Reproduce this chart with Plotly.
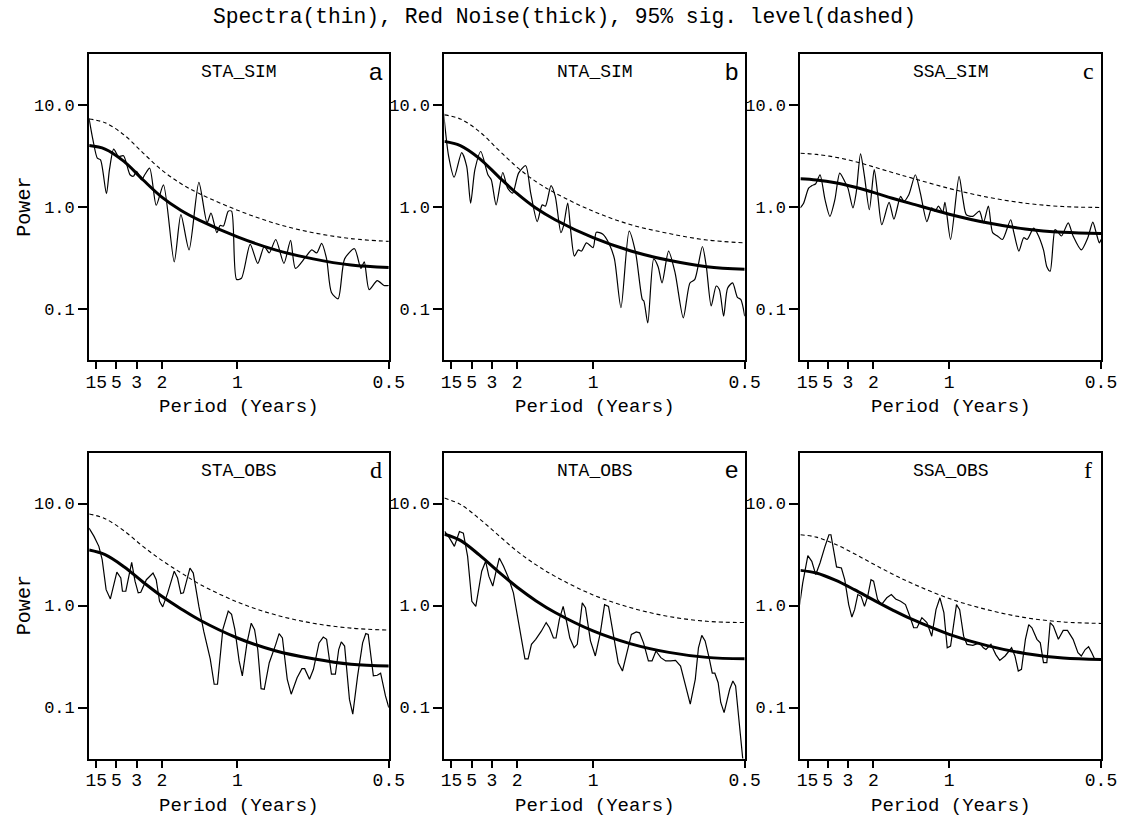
import plotly.graph_objects as go
from plotly.subplots import make_subplots

# ---------------- data (frequency in cycles/year, power) ----------------
panel_names = ["STA_SIM", "NTA_SIM", "SSA_SIM", "STA_OBS", "NTA_OBS", "SSA_OBS"]
panel_letters = ["a", "b", "c", "d", "e", "f"]

tick_periods = [15, 5, 3, 2, 1, 0.5]
tick_period_text = ["15", "5", "3", "2", "1", "0.5"]
power_ticks = [0.1, 1.0, 10.0]
power_tick_text = ["0.1", "1.0", "10.0"]

rn_freq = [0.02, 0.125, 0.25, 0.375, 0.5, 0.625, 0.75, 1.0, 1.25, 1.5, 1.75, 2.0]

red_a = [4.0, 3.7, 2.8, 1.85, 1.25, 0.93, 0.74, 0.51, 0.38, 0.31, 0.27, 0.255]
sig_a = [7.3, 6.7, 5.1, 3.4, 2.3, 1.7, 1.35, 0.93, 0.69, 0.56, 0.49, 0.46]
red_b = [4.4, 4.0, 3.0, 2.0, 1.35, 0.97, 0.75, 0.50, 0.37, 0.30, 0.26, 0.245]
sig_b = [8.0, 7.3, 5.5, 3.65, 2.45, 1.77, 1.37, 0.91, 0.67, 0.55, 0.475, 0.445]
red_c = [1.89, 1.84, 1.73, 1.57, 1.39, 1.22, 1.08, 0.85, 0.70, 0.61, 0.565, 0.55]
sig_c = [3.37, 3.28, 3.08, 2.8, 2.48, 2.18, 1.93, 1.52, 1.25, 1.09, 1.01, 0.99]
red_d = [3.5, 3.15, 2.4, 1.7, 1.23, 0.93, 0.72, 0.48, 0.36, 0.30, 0.265, 0.255]
sig_d = [7.9, 7.1, 5.4, 3.8, 2.77, 2.1, 1.62, 1.08, 0.81, 0.67, 0.60, 0.574]
red_e = [5.0, 4.35, 3.13, 2.15, 1.51, 1.11, 0.854, 0.564, 0.421, 0.347, 0.31, 0.30]
sig_e = [11.3, 9.8, 7.1, 4.9, 3.4, 2.5, 1.93, 1.27, 0.95, 0.78, 0.70, 0.68]
red_f = [2.21, 2.08, 1.77, 1.43, 1.135, 0.907, 0.738, 0.522, 0.404, 0.339, 0.306, 0.296]
sig_f = [4.94, 4.68, 3.98, 3.22, 2.55, 2.04, 1.66, 1.17, 0.91, 0.76, 0.69, 0.667]

freq_a = [0.019, 0.045, 0.074, 0.095, 0.134, 0.154, 0.182, 0.214, 0.247, 0.290, 0.312, 0.333, 0.366,
          0.387, 0.420, 0.463, 0.511, 0.582, 0.626, 0.680, 0.745, 0.799, 0.825, 0.864, 0.885, 0.907,
          0.939, 0.961, 0.994, 1.026, 1.084, 1.134, 1.177, 1.210, 1.253, 1.307, 1.351, 1.383, 1.448,
          1.491, 1.524, 1.556, 1.589, 1.621, 1.665, 1.708, 1.773, 1.816, 1.838, 1.870, 1.924, 1.968, 2.0]
spec_a = [7.41, 4.55, 3.01, 2.90, 1.35, 2.32, 3.69, 3.13, 3.18, 2.07, 2.0, 2.23, 1.85, 2.07, 2.40, 1.04,
          1.65, 0.29, 0.84, 0.38, 1.74, 0.70, 0.87, 0.56, 0.66, 0.65, 0.91, 0.91, 0.195, 0.20, 0.43, 0.28,
          0.41, 0.355, 0.48, 0.28, 0.47, 0.25, 0.32, 0.38, 0.355, 0.44, 0.31, 0.145, 0.126, 0.31, 0.39,
          0.25, 0.29, 0.155, 0.19, 0.17, 0.17]

freq_b = [0.015, 0.048, 0.084, 0.134, 0.167, 0.193, 0.221, 0.260, 0.307, 0.329, 0.361, 0.405, 0.437,
          0.470, 0.509, 0.556, 0.589, 0.632, 0.665, 0.686, 0.723, 0.751, 0.788, 0.805, 0.833, 0.853,
          0.877, 0.903, 0.924, 0.957, 1.000, 1.022, 1.065, 1.108, 1.141, 1.184, 1.238, 1.281, 1.325,
          1.335, 1.361, 1.400, 1.429, 1.455, 1.498, 1.541, 1.595, 1.639, 1.671, 1.721, 1.747, 1.779,
          1.812, 1.833, 1.861, 1.887, 1.920, 1.952, 1.974, 2.0]
spec_b = [8.3, 3.13, 1.96, 3.42, 2.50, 1.09, 2.32, 3.50, 2.07, 1.85, 1.05, 2.18, 1.53, 1.37, 2.15, 2.54,
          1.37, 0.72, 1.05, 1.02, 1.62, 1.27, 0.56, 0.65, 1.09, 0.58, 0.33, 0.38, 0.37, 0.445, 0.40, 0.565,
          0.54, 0.43, 0.31, 0.103, 0.58, 0.355, 0.124, 0.12, 0.073, 0.31, 0.26, 0.18, 0.37, 0.226, 0.082,
          0.18, 0.195, 0.41, 0.26, 0.107, 0.168, 0.155, 0.085, 0.16, 0.18, 0.13, 0.124, 0.085]

freq_c = [0.019, 0.041, 0.074, 0.095, 0.121, 0.149, 0.182, 0.214, 0.247, 0.279, 0.312, 0.333, 0.366,
          0.387, 0.416, 0.442, 0.474, 0.506, 0.528, 0.556, 0.604, 0.636, 0.680, 0.701, 0.734, 0.777,
          0.810, 0.853, 0.885, 0.907, 0.929, 0.957, 0.972, 1.009, 1.065, 1.091, 1.113, 1.156, 1.199,
          1.225, 1.258, 1.286, 1.318, 1.351, 1.405, 1.426, 1.459, 1.491, 1.513, 1.556, 1.578, 1.621,
          1.643, 1.665, 1.697, 1.719, 1.740, 1.784, 1.816, 1.870, 1.913, 1.946, 1.968, 1.989, 2.0]
spec_c = [0.98, 1.09, 1.53, 1.62, 1.69, 2.07, 1.18, 0.81, 1.18, 2.15, 1.78, 1.53, 0.98, 1.37, 3.32, 2.0,
          0.94, 2.32, 1.37, 0.67, 1.11, 0.76, 1.27, 1.14, 1.32, 2.07, 1.37, 0.72, 0.98, 0.91, 1.02, 0.89,
          1.11, 0.48, 2.0, 1.18, 0.84, 0.81, 0.91, 0.70, 1.02, 0.56, 0.52, 0.48, 0.75, 0.56, 0.37, 0.50,
          0.48, 0.62, 0.56, 0.38, 0.26, 0.235, 0.60, 0.56, 0.52, 0.70, 0.52, 0.38, 0.50, 0.71, 0.56,
          0.445, 0.48]

freq_d = [0.019, 0.052, 0.084, 0.106, 0.132, 0.160, 0.203, 0.229, 0.240, 0.262, 0.301, 0.323, 0.344,
          0.361, 0.398, 0.442, 0.463, 0.485, 0.506, 0.539, 0.582, 0.604, 0.626, 0.643, 0.686, 0.708,
          0.745, 0.777, 0.820, 0.846, 0.868, 0.903, 0.939, 0.961, 0.983, 1.011, 1.032, 1.063, 1.091,
          1.113, 1.134, 1.156, 1.177, 1.210, 1.253, 1.275, 1.297, 1.329, 1.355, 1.394, 1.426, 1.444,
          1.476, 1.502, 1.539, 1.567, 1.589, 1.621, 1.647, 1.669, 1.686, 1.708, 1.740, 1.762, 1.794,
          1.827, 1.848, 1.864, 1.898, 1.924, 1.946, 1.978, 2.0]
spec_d = [5.74, 4.76, 3.80, 2.82, 1.43, 1.16, 2.12, 1.86, 1.38, 1.38, 2.65, 1.73, 1.33, 1.35, 1.79, 2.08,
          1.79, 1.10, 0.97, 1.33, 2.17, 1.86, 1.31, 1.33, 2.33, 2.08, 0.98, 0.56, 0.30, 0.169, 0.169,
          0.58, 0.88, 0.82, 0.58, 0.286, 0.204, 0.43, 0.67, 0.58, 0.37, 0.153, 0.151, 0.275, 0.416, 0.53,
          0.48, 0.189, 0.135, 0.196, 0.24, 0.24, 0.189, 0.237, 0.43, 0.49, 0.466, 0.212, 0.212, 0.37,
          0.44, 0.40, 0.12, 0.086, 0.204, 0.43, 0.53, 0.52, 0.204, 0.207, 0.217, 0.13, 0.10]

freq_e = [0.022, 0.054, 0.086, 0.119, 0.145, 0.173, 0.201, 0.227, 0.266, 0.292, 0.313, 0.339, 0.361,
          0.382, 0.410, 0.443, 0.475, 0.508, 0.529, 0.551, 0.572, 0.594, 0.622, 0.659, 0.691, 0.713,
          0.739, 0.756, 0.778, 0.803, 0.827, 0.847, 0.875, 0.896, 0.929, 0.950, 0.983, 1.015, 1.048,
          1.076, 1.102, 1.134, 1.166, 1.194, 1.220, 1.253, 1.285, 1.307, 1.333, 1.365, 1.389, 1.415,
          1.447, 1.479, 1.512, 1.544, 1.577, 1.609, 1.641, 1.674, 1.695, 1.717, 1.739, 1.765, 1.786,
          1.803, 1.825, 1.842, 1.864, 1.901, 1.922, 1.940, 1.955, 1.972, 1.987, 2.0]
spec_e = [5.32, 4.58, 3.80, 5.32, 5.13, 3.03, 1.10, 0.98, 2.17, 2.71, 1.94, 1.55, 2.17, 2.92, 2.42, 1.86,
          1.33, 0.68, 0.43, 0.30, 0.30, 0.416, 0.466, 0.56, 0.68, 0.605, 0.48, 0.48, 0.73, 0.98, 0.68,
          0.48, 0.385, 0.416, 1.06, 0.95, 0.45, 0.32, 0.54, 1.02, 0.98, 0.52, 0.275, 0.228, 0.32, 0.52,
          0.55, 0.54, 0.43, 0.286, 0.286, 0.358, 0.308, 0.286, 0.286, 0.29, 0.255, 0.169, 0.108, 0.189,
          0.385, 0.51, 0.45, 0.308, 0.217, 0.217, 0.175, 0.112, 0.089, 0.151, 0.182, 0.163, 0.096,
          0.049, 0.034, 0.02]

freq_f = [0.015, 0.035, 0.069, 0.095, 0.121, 0.149, 0.182, 0.208, 0.221, 0.258, 0.290, 0.312, 0.338,
          0.359, 0.377, 0.398, 0.420, 0.442, 0.463, 0.485, 0.502, 0.528, 0.554, 0.589, 0.619, 0.647,
          0.680, 0.712, 0.740, 0.766, 0.788, 0.820, 0.853, 0.885, 0.913, 0.939, 0.965, 0.987, 1.009,
          1.048, 1.069, 1.095, 1.117, 1.156, 1.199, 1.225, 1.242, 1.275, 1.307, 1.333, 1.368, 1.411,
          1.433, 1.455, 1.476, 1.502, 1.524, 1.545, 1.578, 1.600, 1.621, 1.643, 1.665, 1.686, 1.719,
          1.751, 1.779, 1.816, 1.848, 1.870, 1.896, 1.918, 1.939, 1.957]
spec_f = [1.02, 1.66, 3.08, 2.71, 2.01, 2.61, 3.80, 4.94, 4.94, 2.39, 2.33, 1.79, 1.02, 0.77, 0.91, 1.28,
          1.23, 0.98, 1.23, 1.79, 1.73, 1.15, 1.02, 1.19, 1.28, 1.16, 1.10, 1.02, 0.79, 0.605, 0.605,
          0.76, 0.68, 0.50, 0.91, 1.19, 0.85, 0.385, 0.40, 1.02, 0.91, 0.50, 0.416, 0.406, 0.43, 0.385,
          0.37, 0.416, 0.33, 0.29, 0.32, 0.385, 0.32, 0.228, 0.237, 0.466, 0.65, 0.605, 0.466, 0.43,
          0.275, 0.275, 0.68, 0.63, 0.466, 0.57, 0.57, 0.466, 0.344, 0.32, 0.37, 0.394, 0.344, 0.30]

title_text = "Spectra(thin), Red Noise(thick), 95% sig. level(dashed)"
x_title = "Period (Years)"
y_title = "Power"

# ---------------- layout geometry ----------------
W, H = 1135, 818
FONT = "Liberation Mono"
col_px = [(86.7, 391.7), (448.3, 754.0), (810.7, 1116.7)]
row_px = [(54.0, 360.0), (452.5, 758.5)]


def px_x(v):
    return v / W


def px_y(v):
    return 1 - v / H


spectra = [(freq_a, spec_a), (freq_b, spec_b), (freq_c, spec_c),
           (freq_d, spec_d), (freq_e, spec_e), (freq_f, spec_f)]
rednoise = [red_a, red_b, red_c, red_d, red_e, red_f]
siglevel = [sig_a, sig_b, sig_c, sig_d, sig_e, sig_f]

fig = make_subplots(rows=2, cols=3)

annotations = [dict(text=title_text, x=px_x(571), y=px_y(17), xref="paper", yref="paper",
                    showarrow=False, font=dict(family=FONT, size=21.3, color="black"),
                    xanchor="center", yanchor="middle")]

for i in range(6):
    r, c = i // 3, i % 3
    fx, py = spectra[i]
    smooth_shape = "spline" if r == 0 else "linear"
    fig.add_trace(go.Scatter(x=fx, y=py, mode="lines",
                             line=dict(color="black", width=1.2, shape=smooth_shape, smoothing=0.7),
                             showlegend=False, hoverinfo="skip"), row=r + 1, col=c + 1)
    fig.add_trace(go.Scatter(x=rn_freq, y=siglevel[i], mode="lines",
                             line=dict(color="black", width=1.1, dash="4px,3px", shape="spline"),
                             showlegend=False, hoverinfo="skip"), row=r + 1, col=c + 1)
    fig.add_trace(go.Scatter(x=rn_freq, y=rednoise[i], mode="lines",
                             line=dict(color="black", width=3, shape="spline"),
                             showlegend=False, hoverinfo="skip"), row=r + 1, col=c + 1)

    x0, x1 = col_px[c]
    y0, y1 = row_px[r]
    axn = i + 1
    xa = "xaxis" if axn == 1 else f"xaxis{axn}"
    ya = "yaxis" if axn == 1 else f"yaxis{axn}"
    fig.layout[xa].update(
        domain=[px_x(x0), px_x(x1)], range=[0.02, 2.0], type="linear",
        tickmode="array", tickvals=[1.0 / p for p in tick_periods], ticktext=tick_period_text,
        ticks="outside", ticklen=7, tickwidth=1.5, tickcolor="black",
        ticklabelstandoff=-3,
        showline=True, linecolor="black", linewidth=2, mirror=True,
        showgrid=False, zeroline=False,
        tickfont=dict(family=FONT, size=18, color="black"))
    fig.layout[ya].update(
        domain=[px_y(y1), px_y(y0)], type="log", range=[-1.5, 1.5],
        tickmode="array", tickvals=power_ticks, ticktext=power_tick_text,
        ticks="outside", ticklen=9, tickwidth=1.5, tickcolor="black",
        showline=True, linecolor="black", linewidth=2, mirror=True,
        showgrid=False, zeroline=False,
        tickfont=dict(family=FONT, size=17, color="black"))

    cx = (x0 + x1) / 2
    annotations.append(dict(text=panel_names[i], x=px_x(cx), y=px_y(y0 + 18), xref="paper", yref="paper",
                            showarrow=False, font=dict(family=FONT, size=18, color="black"),
                            xanchor="center", yanchor="middle"))
    letter_font = "Liberation Sans" if panel_letters[i] in ("a", "b", "e") else "Liberation Serif"
    annotations.append(dict(text=panel_letters[i], x=px_x(x1 - 13), y=px_y(y0 + 17), xref="paper",
                            yref="paper", showarrow=False,
                            font=dict(family=letter_font, size=24, color="black"),
                            xanchor="center", yanchor="middle"))
    annotations.append(dict(text=x_title, x=px_x(cx), y=px_y(y1 + 47), xref="paper", yref="paper",
                            showarrow=False, font=dict(family=FONT, size=19, color="black"),
                            xanchor="center", yanchor="middle"))
    if c == 0:
        annotations.append(dict(text=y_title, x=px_x(21), y=px_y((y0 + y1) / 2), xref="paper",
                                yref="paper", showarrow=False, textangle=-90,
                                font=dict(family=FONT, size=20, color="black"),
                                xanchor="center", yanchor="middle"))

fig.update_layout(width=W, height=H, margin=dict(l=0, r=0, t=0, b=0),
                  paper_bgcolor="white", plot_bgcolor="white",
                  annotations=annotations, showlegend=False)

fig.write_html("out.html", config={"displayModeBar": False},
               post_script="document.body.style.margin='0';")
